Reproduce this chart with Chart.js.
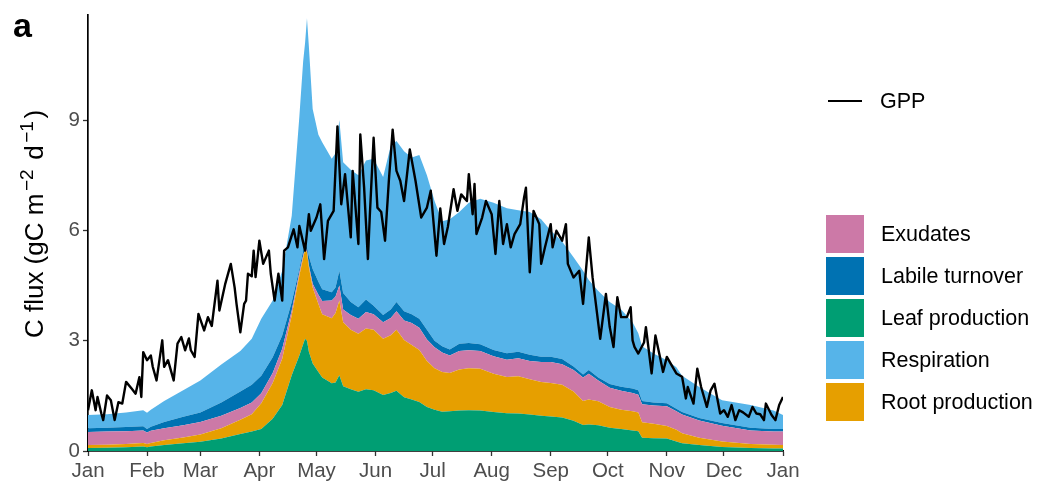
<!DOCTYPE html>
<html>
<head>
<meta charset="utf-8">
<script src="https://cdn.jsdelivr.net/npm/chart.js"></script>
<style>
  body { margin: 0; background: #fff; }
  #contenedor { position: relative; width: 1054px; height: 502px; font-family: "Liberation Sans", Arial, sans-serif; }
  #etiqueta { position: absolute; left: 13px; top: 6px; font-size: 34px; font-weight: bold; color: #000; }
  #leyenda { position: absolute; left: 0; top: 0; }
  .item { position: absolute; display: flex; align-items: center; font-size: 21.5px; color: #000; white-space: nowrap; }
  .caja { width: 38px; height: 38px; margin-right: 17px; }
  .linea { width: 34px; height: 2.4px; background: #000; margin-left: 2px; margin-right: 18px; }
</style>
</head>
<body>
<div id="contenedor">
  <canvas id="grafico"></canvas>
  <div id="etiqueta">a</div>
  <div id="leyenda"></div>
</div>
<script>
// Ejes: dias del año donde empieza cada mes
const mesesDias = [0, 31, 59, 90, 120, 151, 181, 212, 243, 273, 304, 334, 365];
const mesesEtiquetas = ['Jan', 'Feb', 'Mar', 'Apr', 'May', 'Jun', 'Jul', 'Aug', 'Sep', 'Oct', 'Nov', 'Dec', 'Jan'];
const yTicks = [0, 3, 6, 9];

// Dias de las areas apiladas
const diasArea = [0, 10, 20, 29, 31, 33, 40, 50, 59, 70,
  80, 86, 91, 97, 102, 107, 111, 113, 114, 115,
  116, 118, 121, 123, 128, 130, 132, 134, 138, 142,
  146, 150, 155, 159, 162, 166, 170, 174, 178, 182,
  186, 190, 195, 200, 206, 213, 220, 226, 232, 238,
  243, 249, 255, 260, 263, 268, 274, 280, 286, 289,
  291, 297, 304, 309, 312, 321, 333, 348, 360, 365];

// Leaf production
const hojas = [.08, .09, .10, .12, .10, .12, .16, .21, .25, .34,
  .46, .53, .60, .88, 1.25, 2.06, 2.60, 2.90, 3.05, 3.00,
  2.70, 2.38, 2.15, 2.00, 1.84, 1.86, 2.06, 1.76, 1.68, 1.61,
  1.68, 1.65, 1.52, 1.58, 1.64, 1.46, 1.40, 1.33, 1.20, 1.12,
  1.07, 1.08, 1.10, 1.11, 1.10, 1.06, 1.03, 1.02, .99, .96,
  .94, .91, .82, .71, .72, .70, .63, .60, .56, .54,
  .36, .35, .34, .26, .21, .16, .11, .08, .07, .07];
// Root production
const raices = [.08, .08, .09, .10, .09, .10, .13, .16, .20, .28,
  .39, .47, .70, .97, 1.26, 1.63, 2.17, 2.35, 2.44, 2.40,
  2.30, 2.07, 1.85, 1.72, 1.77, 1.89, 2.03, 1.74, 1.62, 1.58,
  1.65, 1.65, 1.53, 1.57, 1.66, 1.56, 1.48, 1.42, 1.25, 1.13,
  1.08, 1.04, 1.12, 1.14, 1.14, 1.04, .98, 1.01, .96, .92,
  .91, .89, .80, .65, .68, .65, .57, .52, .52, .51,
  .42, .39, .34, .32, .27, .20, .15, .11, .10, .09];
// Exudates
const exudados = [.36, .36, .35, .34, .31, .33, .33, .33, .34, .34,
  .32, .32, .27, .27, .27, .13, .09, .07, .03, .05,
  .05, .10, .25, .36, .48, .45, .41, .35, .40, .41,
  .45, .42, .45, .47, .50, .53, .60, .60, .58, .57,
  .53, .48, .50, .49, .48, .48, .47, .49, .50, .54,
  .57, .56, .58, .64, .70, .57, .52, .52, .50, .48,
  .49, .50, .54, .50, .51, .47, .43, .37, .36, .37];
// Labile turnover
const labil = [.10, .10, .11, .11, .10, .11, .17, .23, .26, .36,
  .45, .48, .48, .43, .36, .23, .09, .13, .15, .10,
  .25, .40, .35, .32, .23, .25, .40, .45, .35, .31,
  .34, .23, .20, .23, .25, .25, .24, .25, .27, .18,
  .17, .16, .20, .20, .18, .17, .18, .18, .17, .14,
  .14, .14, .10, .08, .10, .08, .10, .11, .12, .12,
  .09, .08, .08, .07, .07, .07, .07, .07, .07, .07];
// Respiration
const respiracion = [.36, .37, .40, .44, .44, .46, .57, .72, .87, 1.03,
  1.10, 1.25, 1.55, 1.54, 1.76, 2.35, 4.15, 5.15, 5.43, 6.22,
  5.70, 4.35, 4.00, 4.00, 3.63, 3.65, 4.10, 3.55, 3.60, 3.59,
  3.78, 4.00, 3.75, 4.45, 4.38, 4.35, 4.26, 4.45, 4.20, 3.80,
  3.40, 3.54, 3.58, 3.81, 3.96, 4.00, 3.94, 3.85, 3.88, 3.74,
  3.44, 3.20, 2.97, 2.82, 2.45, 2.35, 2.23, 2.10, 1.80, 1.55,
  1.49, 1.33, 1.17, 1.13, .99, .84, .62, .62, .50, .38];

// GPP diario (linea negra)
const diasGPP = [0, 2, 4, 5, 7, 8, 10, 12, 14, 16, 18, 20, 23, 25, 27, 28, 29, 31, 33, 34,
  36, 39, 40, 42, 45, 47, 49, 51, 53, 54, 56, 58, 61, 63, 65, 66, 68, 69, 72, 75,
  77, 78, 80, 82, 83, 84, 86, 87, 88, 90, 92, 95, 96, 98, 100, 102, 103, 105, 108, 110,
  111, 114, 116, 117, 120, 122, 124, 126, 129, 131, 133, 135, 138, 139, 142, 143, 145, 147, 148, 150,
  152, 154, 156, 158, 160, 162, 164, 166, 169, 172, 175, 178, 180, 183, 185, 187, 189, 192, 194, 196,
  199, 200, 202, 203, 204, 207, 209, 212, 214, 216, 218, 220, 222, 224, 227, 229, 230, 232, 234, 237,
  238, 240, 243, 244, 246, 249, 251, 252, 255, 258, 260, 263, 265, 269, 272, 274, 276, 278, 280, 283,
  285, 286, 287, 289, 292, 293, 296, 298, 300, 302, 304, 307, 309, 312, 314, 315, 318, 320, 322, 325,
  327, 329, 332, 334, 336, 338, 340, 342, 344, 347, 349, 351, 353, 355, 356, 359, 361, 363, 365];
const gpp = [1.11, 1.65, 1.11, 1.47, 1.02, 0.84, 1.51, 1.38, 0.84, 1.33, 1.29, 1.88, 1.69, 1.56, 2.01, 1.47, 2.69, 2.47, 2.60, 2.29,
  1.92, 3.01, 2.29, 2.47, 1.92, 2.92, 3.10, 2.74, 3.06, 2.74, 2.56, 3.73, 3.28, 3.64, 3.40, 3.82, 4.63, 3.82, 4.53, 5.09,
  4.45, 4.00, 3.23, 4.00, 4.09, 4.82, 4.75, 5.45, 4.73, 5.72, 5.09, 5.45, 4.82, 4.09, 4.82, 4.09, 5.45, 5.54, 6.03, 5.54,
  6.12, 5.45, 6.44, 5.99, 6.35, 6.71, 5.22, 6.26, 6.53, 8.83, 6.71, 7.53, 5.81, 7.62, 5.63, 8.61, 7.17, 5.22, 6.40, 8.52,
  6.62, 6.50, 5.72, 7.35, 8.74, 7.62, 7.35, 6.80, 8.20, 7.35, 6.35, 6.62, 7.08, 5.31, 6.60, 5.63, 6.10, 7.12, 6.53, 6.98,
  6.80, 7.53, 6.44, 7.26, 5.90, 6.35, 6.80, 6.44, 5.36, 6.80, 5.63, 6.17, 5.54, 5.90, 6.17, 6.89, 7.16, 4.86, 6.53, 6.17,
  5.09, 5.54, 6.17, 5.54, 5.99, 5.72, 6.17, 5.09, 4.72, 4.90, 4.00, 5.81, 4.72, 3.05, 4.27, 3.37, 2.83, 4.18, 3.64, 3.64,
  3.91, 3.01, 2.83, 2.65, 2.95, 3.37, 2.11, 3.14, 2.65, 2.15, 2.56, 2.29, 2.11, 2.02, 1.43, 1.74, 1.29, 2.24, 1.74, 1.20,
  1.65, 1.83, 1.02, 1.11, 0.93, 1.25, 0.84, 1.11, 1.05, 0.93, 1.20, 1.02, 1.00, 0.84, 1.29, 0.98, 0.84, 1.25, 1.47];

const fuente = '"Liberation Sans", Arial, sans-serif';

// Series apiladas (de abajo hacia arriba)
const series = [
  { label: 'Leaf production', valores: hojas, color: '#009E73' },
  { label: 'Root production', valores: raices, color: '#E69F00' },
  { label: 'Exudates', valores: exudados, color: '#CC79A7' },
  { label: 'Labile turnover', valores: labil, color: '#0072B2' },
  { label: 'Respiration', valores: respiracion, color: '#56B4E9' }
];

function armarDatasets() {
  const ds = series.map((s, i) => ({
    label: s.label,
    data: diasArea.map((d, j) => ({ x: d, y: s.valores[j] })),
    backgroundColor: s.color,
    borderWidth: 0,
    pointRadius: 0,
    fill: i === 0 ? 'origin' : '-1',
    stack: 'flujos',
    order: 1
  }));
  ds.push({
    label: 'GPP',
    data: diasGPP.map((d, j) => ({ x: d, y: gpp[j] })),
    borderColor: '#000',
    borderWidth: 2.4,
    borderJoinStyle: 'round',
    pointRadius: 0,
    fill: false,
    stack: 'gpp',
    order: 0
  });
  return ds;
}

// Titulo del eje Y con superindices
const tituloY = {
  id: 'tituloY',
  afterDraw(chart) {
    const ctx = chart.ctx;
    const partes = [['C flux (gC m', false], ['\u22122', true], [' d', false], ['\u22121', true], [')', false]];
    const normal = '26px ' + fuente;
    const sup = '19px ' + fuente;
    const hueco = 2.5; // espacio alrededor de los superindices
    ctx.save();
    let total = 0;
    partes.forEach(p => {
      ctx.font = p[1] ? sup : normal;
      total += ctx.measureText(p[0]).width + (p[1] ? 2 * hueco : 0);
    });
    ctx.translate(43, 224);
    ctx.rotate(-Math.PI / 2);
    ctx.textBaseline = 'alphabetic';
    ctx.textAlign = 'left';
    ctx.fillStyle = '#000';
    let x = -total / 2;
    partes.forEach(p => {
      ctx.font = p[1] ? sup : normal;
      if (p[1]) x += hueco;
      ctx.fillText(p[0], x, p[1] ? -10 : 0);
      x += ctx.measureText(p[0]).width + (p[1] ? hueco : 0);
    });
    ctx.restore();
  }
};

function imprimirLeyenda() {
  const leyenda = document.getElementById('leyenda');
  let html = '<div class="item" style="left:826px;top:86px;height:30px"><div class="linea"></div>GPP</div>';
  const ordenadas = series.slice().sort((a, b) => a.label.localeCompare(b.label));
  ordenadas.forEach((s, i) => {
    const top = 215 + i * 42;
    html += '<div class="item" style="left:826px;top:' + top + 'px"><div class="caja" style="background:' + s.color + '"></div>' + s.label + '</div>';
  });
  leyenda.innerHTML = html;
}

function imprimirGrafica() {
  const migrafico = document.getElementById('grafico');
  const config = {
    type: 'line',
    data: { datasets: armarDatasets() },
    options: {
      responsive: true,
      maintainAspectRatio: false,
      animation: false,
      events: [],
      layout: { padding: { left: 0, top: 14, right: 271, bottom: 0 } },
      plugins: {
        legend: { display: false },
        tooltip: { enabled: false },
        filler: { drawTime: 'beforeDatasetsDraw' }
      },
      scales: {
        x: {
          type: 'linear',
          min: 0,
          max: 365,
          afterBuildTicks: s => { s.ticks = mesesDias.map(v => ({ value: v })); },
          afterFit: s => { s.height = 51; },
          ticks: {
            callback: (v, i) => mesesEtiquetas[i],
            autoSkip: false,
            maxRotation: 0,
            padding: 3,
            color: '#4D4D4D',
            font: { family: fuente, size: 20.5 }
          },
          grid: { drawOnChartArea: false, tickLength: 5, tickColor: '#333', tickWidth: 1.3 },
          border: { color: '#000', width: 1.7 }
        },
        y: {
          stacked: true,
          min: 0,
          max: 11.85,
          afterBuildTicks: s => { s.ticks = yTicks.map(v => ({ value: v })); },
          afterFit: s => { s.width = 88; },
          ticks: {
            padding: 3,
            color: '#4D4D4D',
            font: { family: fuente, size: 20.5 }
          },
          grid: { drawOnChartArea: false, tickLength: 5, tickColor: '#333', tickWidth: 1.3 },
          border: { color: '#000', width: 1.7 }
        }
      }
    },
    plugins: [tituloY]
  };
  new Chart(migrafico, config);
}

imprimirLeyenda();
imprimirGrafica();
</script>
</body>
</html>
